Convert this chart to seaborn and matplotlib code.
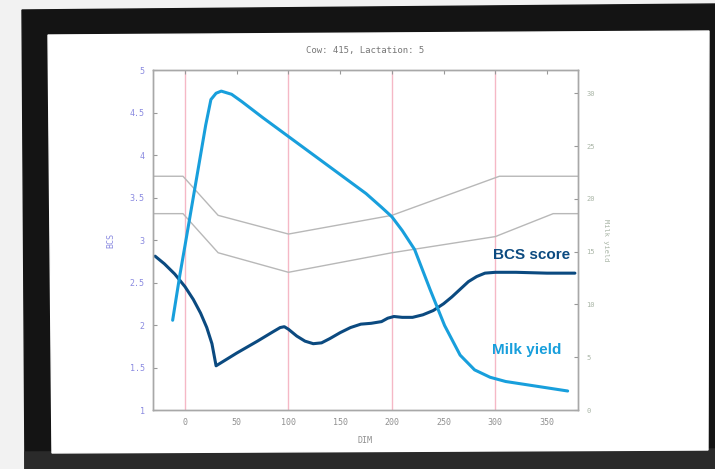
import matplotlib
matplotlib.use("Agg")
import matplotlib.pyplot as plt
from matplotlib.patches import Polygon
import pandas as pd
import seaborn as sns

# BCS curve (days in milk, body condition score)
bcs_dim = [-29, -20, -10, 0, 8, 15, 21, 26, 30, 50, 70, 85, 92, 96, 100, 108,
           116, 124, 132, 140, 150, 160, 170, 180, 190, 196, 202, 210, 220,
           230, 240, 250, 258, 266, 274, 282, 290, 300, 320, 350, 377]
bcs_val = [2.81, 2.72, 2.60, 2.45, 2.30, 2.14, 1.97, 1.78, 1.52, 1.67, 1.81,
           1.92, 1.97, 1.98, 1.95, 1.87, 1.81, 1.78, 1.79, 1.84, 1.91, 1.97,
           2.01, 2.02, 2.04, 2.08, 2.10, 2.09, 2.09, 2.12, 2.17, 2.25, 2.33,
           2.42, 2.51, 2.57, 2.61, 2.62, 2.62, 2.61, 2.61]

# milk yield curve (right axis)
milk_dim = [-12, -5, 0, 10, 20, 25, 30, 35, 45, 55, 75, 100, 125, 150, 175,
            190, 200, 210, 222, 237, 251, 266, 280, 295, 310, 330, 350, 370]
milk_val = [8.5, 12.8, 15.6, 21.3, 27.0, 29.4, 30.0, 30.2, 29.9, 29.2, 27.7,
            25.9, 24.1, 22.3, 20.5, 19.2, 18.3, 17.0, 15.2, 11.4, 8.0, 5.2,
            3.8, 3.1, 2.7, 2.4, 2.1, 1.8]

# target BCS band (grey lines)
band_dim_hi = [-31, -2, 32, 100, 200, 304, 380]
band_hi = [3.75, 3.75, 3.29, 3.07, 3.29, 3.75, 3.75]
band_dim_lo = [-31, -2, 32, 100, 200, 300, 356, 380]
band_lo = [3.31, 3.31, 2.85, 2.62, 2.85, 3.04, 3.31, 3.31]

marker_days = [0, 100, 200, 300]
x_ticks = [0, 50, 100, 150, 200, 250, 300, 350]
bcs_ticks = [1, 1.5, 2, 2.5, 3, 3.5, 4, 4.5, 5]
milk_ticks = [0, 5, 10, 15, 20, 25, 30]

df_bcs = pd.DataFrame({"DIM": bcs_dim, "BCS": bcs_val})
df_milk = pd.DataFrame({"DIM": milk_dim, "Milk": milk_val})
df_hi = pd.DataFrame({"DIM": band_dim_hi, "BCS": band_hi})
df_lo = pd.DataFrame({"DIM": band_dim_lo, "BCS": band_lo})

sns.set_style("white")
plt.rcParams["font.family"] = ["DejaVu Sans Mono"]

fig = plt.figure(figsize=(7.15, 4.69), dpi=100)

# monitor frame drawn in pixel space
bg = fig.add_axes([0, 0, 1, 1], zorder=0)
bg.set_xlim(0, 715)
bg.set_ylim(469, 0)
bg.axis("off")
bg.add_patch(Polygon([(0, 0), (715, 0), (715, 469), (0, 469)], color="#f2f2f2"))
bg.add_patch(Polygon([(22, 10), (715, 4), (715, 469), (25, 469)], color="#141414"))
bg.add_patch(Polygon([(25, 452), (715, 449), (715, 469), (25, 469)], color="#2a2a2a"))
bg.add_patch(Polygon([(48, 35), (709, 31), (708, 450), (52, 453)], color="#ffffff"))

ax = fig.add_axes([153 / 715, 1 - 410 / 469, 425 / 715, 340 / 469], zorder=2)
ax.patch.set_alpha(0)
ax2 = ax.twinx()

for d in marker_days:
    ax.axvline(d, color="#f5b8c6", lw=1, zorder=0)

sns.lineplot(data=df_hi, x="DIM", y="BCS", ax=ax, color="#b8b8b8", lw=1)
sns.lineplot(data=df_lo, x="DIM", y="BCS", ax=ax, color="#b8b8b8", lw=1)
sns.lineplot(data=df_bcs, x="DIM", y="BCS", ax=ax, color="#0b4a80", lw=2.2)
sns.lineplot(data=df_milk, x="DIM", y="Milk", ax=ax2, color="#189fdc", lw=2.2)

ax.set_xlim(-31, 380)
ax.set_ylim(1, 5)
ax2.set_ylim(0, 32.2)
ax.set_xticks(x_ticks)
ax.set_yticks(bcs_ticks)
ax.set_yticklabels([f"{t:g}" for t in bcs_ticks])
ax2.set_yticks(milk_ticks)

for a in (ax, ax2):
    for s in a.spines.values():
        s.set_color("#a8a8a8")
        s.set_linewidth(1)
ax.tick_params(axis="x", direction="in", length=3, top=True, color="#999999",
               labelsize=6, labelcolor="#909090", pad=6)
ax.tick_params(axis="y", direction="in", length=3, color="#999999",
               labelsize=6, labelcolor="#8a8ae0", pad=6)
ax2.tick_params(axis="y", direction="in", length=3, color="#999999",
                labelsize=5, labelcolor="#a9b5a6", pad=6)

ax.set_xlabel("DIM", fontsize=6, color="#909090", labelpad=6)
ax.set_ylabel("BCS", fontsize=6, color="#8a8ae0", labelpad=10)
ax2.set_ylabel("Milk yield", fontsize=5, color="#a9b5a6", rotation=270,
               labelpad=10)
ax.set_title("Cow: 415, Lactation: 5", fontsize=6.5, color="#777777", pad=12)

ax.text(0.981, 0.456, "BCS score", transform=ax.transAxes, ha="right",
        va="center", fontsize=11, fontweight="bold", color="#0b4a80",
        family=["Liberation Sans", "DejaVu Sans"])
ax.text(0.962, 0.176, "Milk yield", transform=ax.transAxes, ha="right",
        va="center", fontsize=11, fontweight="bold", color="#189fdc",
        family=["Liberation Sans", "DejaVu Sans"])

fig.savefig("out.png", dpi=100)
plt.close(fig)
